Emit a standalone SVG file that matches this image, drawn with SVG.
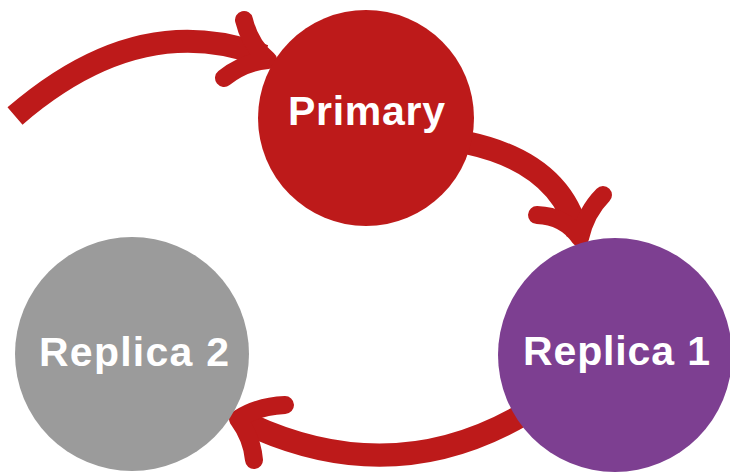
<svg xmlns="http://www.w3.org/2000/svg" width="730" height="473" viewBox="0 0 730 473">
<style>
.lbl{font-family:"Liberation Sans",Arial,sans-serif;font-weight:bold;font-size:41px;fill:#ffffff;text-anchor:middle}
.shaft{fill:none;stroke:#BD1A1A;stroke-width:23;stroke-linecap:butt}
.barb{fill:none;stroke:#BD1A1A;stroke-width:18;stroke-linecap:round;stroke-linejoin:round}
</style>
<rect width="730" height="473" fill="#ffffff"/>
<g id="connectors">
<path class="shaft" d="M15,116 Q140,8 264,56"/>
<path class="barb" d="M244,20 Q250,45 268,60 Q244,62 224,78"/>
<path class="shaft" d="M468,143 Q560,163 578,234"/>
<path class="barb" d="M537,215 Q565,216 580,238 Q586,212 603,195"/>
<path class="shaft" d="M524,414 Q390,492 244,422"/>
<path class="barb" d="M285,405 Q258,406 238,419 Q252,438 254,460"/>
</g>
<g id="primary">
<circle cx="366" cy="118" r="108" fill="#BD1A1A"/>
<text class="lbl" x="366.5" y="125" textLength="157" lengthAdjust="spacing">Primary</text>
</g>
<g id="replica1">
<circle cx="615" cy="355" r="117" fill="#7D3F91"/>
<text class="lbl" x="616.5" y="365" textLength="187" lengthAdjust="spacing">Replica 1</text>
</g>
<g id="replica2">
<circle cx="132" cy="354" r="117" fill="#9B9B9B"/>
<text class="lbl" x="134" y="366" textLength="190" lengthAdjust="spacing">Replica 2</text>
</g>
</svg>
